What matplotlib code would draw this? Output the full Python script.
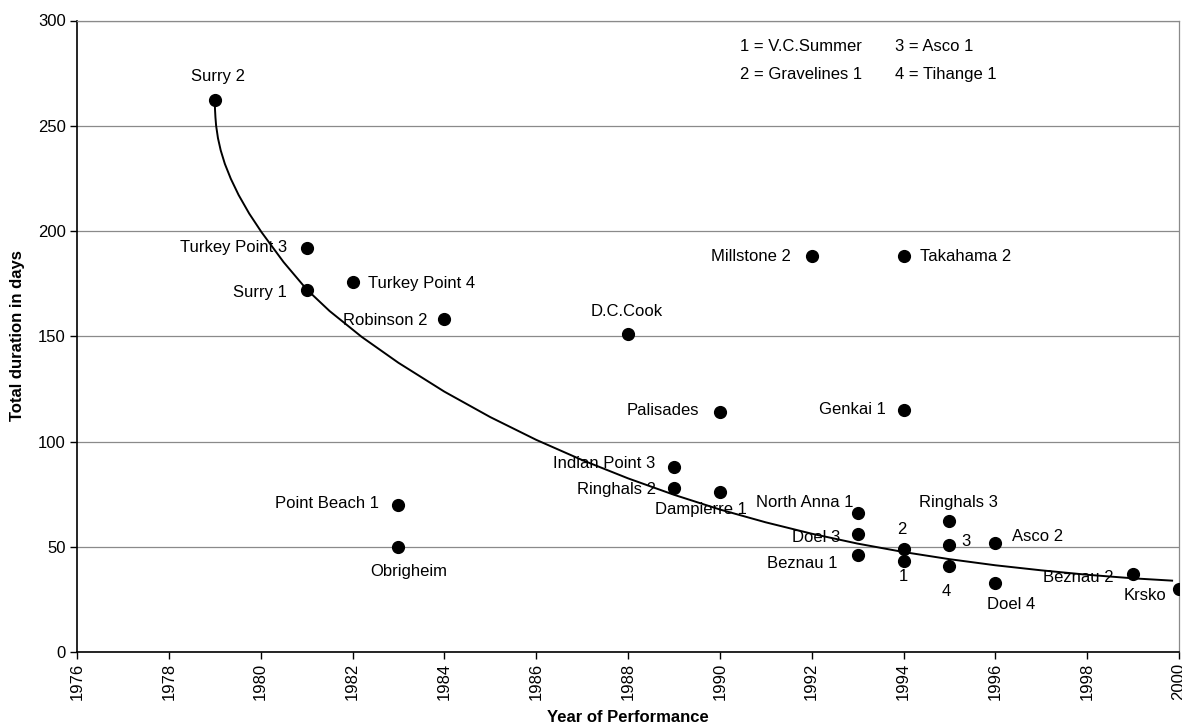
import matplotlib
matplotlib.use('Agg')
import matplotlib.pyplot as plt

plt.rcParams['font.family'] = ['Liberation Sans', 'DejaVu Sans']

# plant data: year of performance and total duration (days)
names = ['Surry 2', 'Turkey Point 3', 'Surry 1', 'Turkey Point 4', 'Robinson 2',
         'Point Beach 1', 'Obrigheim', 'D.C.Cook', 'Indian Point 3', 'Ringhals 2',
         'Palisades', 'Dampierre 1', 'Millstone 2', 'North Anna 1', 'Doel 3',
         'Beznau 1', 'Takahama 2', 'Genkai 1', '2', '1', 'Ringhals 3', '3', '4',
         'Asco 2', 'Doel 4', 'Beznau 2', 'Krsko']
years = [1979, 1981, 1981, 1982, 1984, 1983, 1983, 1988, 1989, 1989, 1990, 1990,
         1992, 1993, 1993, 1993, 1994, 1994, 1994, 1994, 1995, 1995, 1995, 1996,
         1996, 1999, 2000]
days = [262, 192, 172, 176, 158, 70, 50, 151, 88, 78, 114, 76, 188, 66, 56, 46,
        188, 115, 49, 43, 62, 51, 41, 52, 33, 37, 30]

# trend curve
trend_years = [1979.000, 1979.005, 1979.015, 1979.030, 1979.070, 1979.130,
               1979.220, 1979.350, 1979.520, 1979.750, 1980.020, 1980.500,
               1981.000, 1981.500, 1982.200, 1983.000, 1984.000, 1985.000,
               1986.000, 1987.000, 1988.000, 1989.000, 1990.000, 1991.000,
               1992.000, 1993.000, 1994.000, 1995.000, 1996.000, 1997.000,
               1998.000, 1999.000, 1999.850]
trend_days = [262.0, 258.0, 254.0, 250.0, 244.1, 238.3, 231.9, 224.8, 217.1,
              208.3, 199.4, 185.2, 172.3, 162.0, 149.7, 137.4, 123.7, 111.6,
              100.8, 91.2, 82.5, 74.7, 67.7, 61.6, 56.2, 51.5, 47.5, 44.1, 41.2,
              38.8, 36.7, 35.0, 33.9]

legend_lines = [['1 = V.C.Summer', '2 = Gravelines 1'], ['3 = Asco 1', '4 = Tihange 1']]

# label offsets in pixels (dx, dy down) and alignment
label_pos = {
    'Surry 2': (3, -24, 'center'), 'Turkey Point 3': (-19, 0, 'right'),
    'Surry 1': (-20, 3, 'right'), 'Turkey Point 4': (16, 2, 'left'),
    'Robinson 2': (-17, 1, 'right'), 'Point Beach 1': (-19, -1, 'right'),
    'Obrigheim': (10, 25, 'center'), 'D.C.Cook': (-1, -23, 'center'),
    'Indian Point 3': (-19, -3, 'right'), 'Ringhals 2': (-18, 2, 'right'),
    'Palisades': (-21, -2, 'right'), 'Dampierre 1': (-19, 17, 'center'),
    'Millstone 2': (-21, 0, 'right'), 'North Anna 1': (-4, -11, 'right'),
    'Doel 3': (-17, 3, 'right'), 'Beznau 1': (-20, 8, 'right'),
    'Takahama 2': (17, 0, 'left'), 'Genkai 1': (-18, 0, 'right'),
    '2': (-2, -19, 'center'), '1': (0, 15, 'center'),
    'Ringhals 3': (9, -19, 'center'), '3': (17, -3, 'center'),
    '4': (-3, 26, 'center'), 'Asco 2': (17, -6, 'left'),
    'Doel 4': (16, 22, 'center'), 'Beznau 2': (-19, 3, 'right'),
    'Krsko': (-13, 7, 'right'),
}

fig = plt.figure(figsize=(11.82, 7.25), dpi=100)
ax = fig.add_axes([77 / 1182, 73 / 725, 1102 / 1182, 631.5 / 725])

ax.plot(trend_years, trend_days, color='black', lw=1.4, zorder=2,
        solid_joinstyle='round')
ax.scatter(years, days, s=72, color='black', zorder=3)

for name, x, y in zip(names, years, days):
    dx, dy, ha = label_pos[name]
    ax.annotate(name, (x, y), xytext=(dx, -dy), textcoords='offset pixels',
                ha=ha, va='center', fontsize=12, annotation_clip=False)

for col, lx in enumerate([0.6016, 0.742]):
    for row, ly in enumerate([0.9596, 0.915]):
        ax.text(lx, ly, legend_lines[col][row], transform=ax.transAxes,
                fontsize=12, ha='left', va='center')

ax.set_xlim(1976, 2000)
ax.set_ylim(0, 300)
ax.set_xticks(range(1976, 2001, 2))
ax.set_yticks(range(0, 301, 50))
ax.tick_params(axis='x', labelrotation=90, labelsize=12, length=5, width=1, pad=3)
ax.tick_params(axis='y', labelsize=12, length=5, width=1, pad=3)

ax.grid(axis='y', color='#8a8a8a', lw=0.9)
ax.set_axisbelow(True)
for s in ['top', 'right']:
    ax.spines[s].set_color('#8a8a8a')
    ax.spines[s].set_linewidth(0.9)
for s in ['left', 'bottom']:
    ax.spines[s].set_linewidth(1.2)

fig.text(628 / 1182, 1 - 717 / 725, 'Year of Performance', ha='center', va='center',
         fontsize=12, weight='bold')
fig.text(18 / 1182, 1 - 336 / 725, 'Total duration in days', ha='center', va='center',
         rotation=90, fontsize=12, weight='bold')

fig.savefig('out.png', dpi=100)
